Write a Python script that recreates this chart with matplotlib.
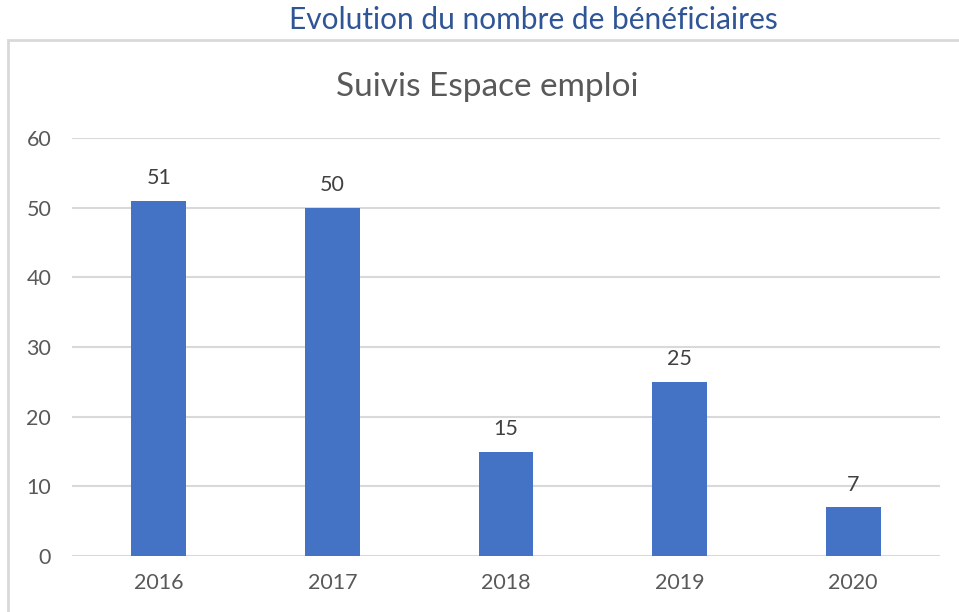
import matplotlib.pyplot as plt
from matplotlib.patches import Rectangle

# Données
annees = ['2016', '2017', '2018', '2019', '2020']
suivis = [51, 50, 15, 25, 7]
yticks = [0, 10, 20, 30, 40, 50, 60]

plt.rcParams['font.family'] = ['Lato', 'DejaVu Sans']

fig = plt.figure(figsize=(9.59, 6.12), dpi=100)

# Cadre du graphique (gris clair)
fig.patches.append(Rectangle((8 / 959, -0.1), 1.0, (612 - 40) / 612 + 0.1,
                             transform=fig.transFigure, fill=False,
                             edgecolor='#D9D9D9', linewidth=2))

fig.text(533 / 959, 1 - 20 / 612, 'Evolution du nombre de bénéficiaires',
         ha='center', va='center', fontsize=21.5, color='#2F5597')

ax = fig.add_axes([72 / 959, 56 / 612, 868 / 959, 418 / 612])
x = range(len(annees))
bars = ax.bar(x, suivis, width=0.315, color='#4472C4', zorder=3)
ax.set_xlim(-0.5, len(annees) - 0.5)
ax.set_ylim(0, 60)
ax.set_yticks(yticks)
ax.set_xticks(list(x))
ax.set_xticklabels(annees)
ax.grid(axis='y', color='#D9D9D9', linewidth=1.5, zorder=0)
for s in ax.spines.values():
    s.set_visible(False)
ax.tick_params(length=0, labelsize=15.5, colors='#595959')
ax.tick_params(axis='x', pad=12)
ax.tick_params(axis='y', pad=15)

for b, v in zip(bars, suivis):
    ax.annotate(str(v), (b.get_x() + b.get_width() / 2, v),
                xytext=(0, 9), textcoords='offset points',
                ha='center', va='bottom', fontsize=15.5, color='#404040')

fig.text(487 / 959, 1 - 87 / 612, 'Suivis Espace emploi',
         ha='center', va='center', fontsize=24, color='#595959')

plt.savefig('out.png', dpi=100)
